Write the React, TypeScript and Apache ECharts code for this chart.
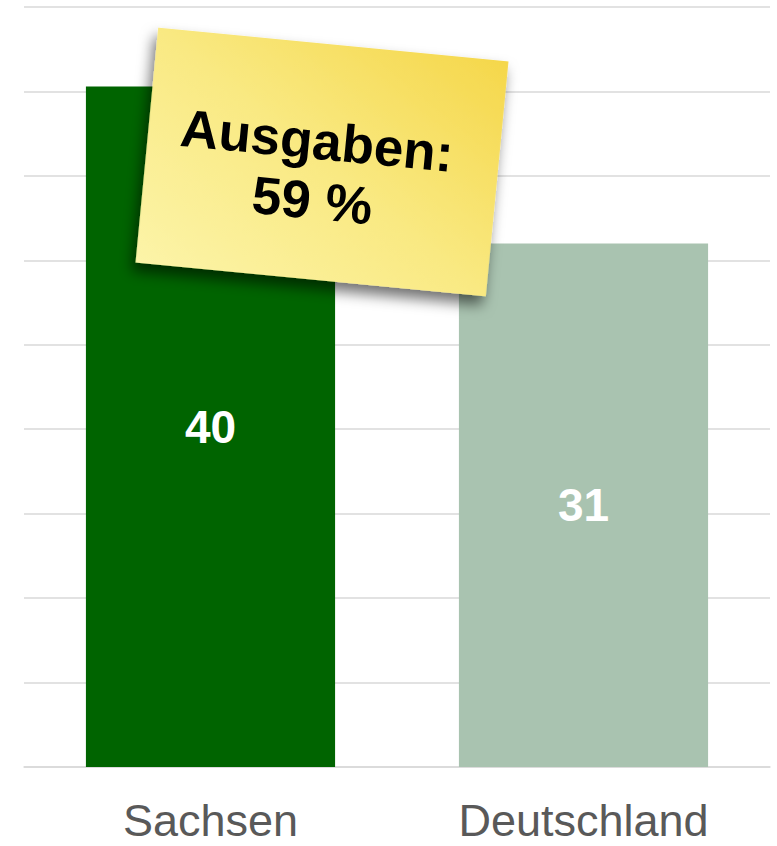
import React, { useEffect, useRef } from "react";
import * as echarts from "echarts";

const categories = ["Sachsen", "Deutschland"];
const values = [40.3, 31];
const valueLabels = ["40", "31"];
const barColors = ["#006400", "#a9c3b0"];
const noteLines = ["Ausgaben:", "59 %"];

export default function App() {
  const ref = useRef<HTMLDivElement>(null);
  useEffect(() => {
    if (!ref.current) return;
    const chart = echarts.init(ref.current, null, { renderer: "svg" });
    const font = '"Liberation Sans", Arial, Helvetica, sans-serif';
    chart.setOption({
      animation: false,
      grid: { left: 24, right: 7, top: 7, bottom: 79, containLabel: false },
      xAxis: {
        type: "category",
        data: categories,
        axisLine: { show: true, lineStyle: { color: "#d9d9d9", width: 1.5 } },
        axisTick: { show: false },
        axisLabel: { color: "#595959", fontSize: 45, lineHeight: 44, fontFamily: font, margin: 31 },
      },
      yAxis: {
        type: "value",
        min: 0,
        max: 45,
        interval: 5,
        axisLabel: { show: false },
        axisLine: { show: false },
        axisTick: { show: false },
        splitLine: { lineStyle: { color: "#d9d9d9", width: 1.5 } },
      },
      series: [
        {
          type: "bar",
          barWidth: "66.8%",
          data: values.map((v, i) => ({ value: v, itemStyle: { color: barColors[i] } })),
          label: {
            show: true,
            position: "inside",
            color: "#ffffff",
            fontSize: 46,
            fontWeight: "bold",
            fontFamily: font,
            formatter: (p: any) => valueLabels[p.dataIndex],
          },
        },
      ],
      graphic: [
        {
          type: "group",
          x: 322,
          y: 162,
          rotation: -0.096,
          z: 100,
          children: [
            {
              type: "rect",
              z: 100,
              shape: { x: -176, y: -118, width: 352, height: 236 },
              style: {
                fill: new echarts.graphic.LinearGradient(0, 1, 1, 0, [
                  { offset: 0, color: "#fcf4a8" },
                  { offset: 0.5, color: "#f9e982" },
                  { offset: 1, color: "#f5d74a" },
                ]),
                shadowBlur: 14,
                shadowOffsetX: -3,
                shadowOffsetY: 9,
                shadowColor: "rgba(0,0,0,0.55)",
              },
            },
            {
              type: "text",
              z: 101,
              x: -7,
              y: -21,
              style: {
                text: noteLines[0],
                fill: "#000000",
                fontSize: 53,
                fontWeight: "bold",
                fontFamily: font,
                align: "center",
                verticalAlign: "middle",
              },
            },
            {
              type: "text",
              z: 101,
              x: -6,
              y: 39,
              style: {
                text: noteLines[1],
                fill: "#000000",
                fontSize: 53,
                fontWeight: "bold",
                fontFamily: font,
                align: "center",
                verticalAlign: "middle",
              },
            },
          ],
        },
      ],
    });
    return () => chart.dispose();
  }, []);
  return (
    <div
      ref={ref}
      style={{ position: "fixed", left: 0, top: 0, width: 777, height: 846, background: "#ffffff" }}
    />
  );
}
